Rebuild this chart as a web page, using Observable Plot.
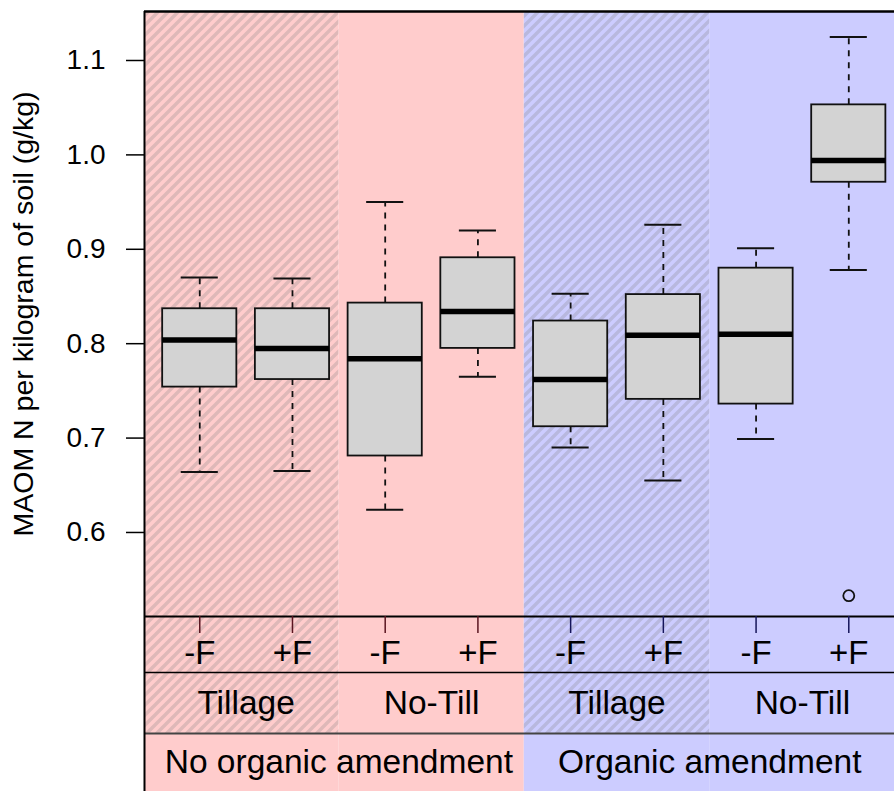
<!DOCTYPE html>
<html>
<head>
<meta charset="utf-8">
<script src="https://cdn.jsdelivr.net/npm/d3@7"></script>
<script src="https://cdn.jsdelivr.net/npm/@observablehq/plot@0.6"></script>
<style>
  html, body { margin: 0; padding: 0; background: white; }
</style>
</head>
<body>
<div id="chart"></div>
<script>
// ---- data ----
const fertilizer = ["-F", "+F", "-F", "+F", "-F", "+F", "-F", "+F"];
const tillage = ["Tillage", "No-Till", "Tillage", "No-Till"];
const amendment = ["No organic amendment", "Organic amendment"];
const whiskerLow = [0.664, 0.665, 0.624, 0.765, 0.690, 0.655, 0.699, 0.878];
const q1 = [0.754, 0.762, 0.681, 0.795, 0.712, 0.741, 0.736, 0.971];
const median = [0.804, 0.795, 0.784, 0.834, 0.762, 0.809, 0.810, 0.994];
const q3 = [0.837, 0.837, 0.843, 0.891, 0.824, 0.852, 0.880, 1.053];
const whiskerHigh = [0.870, 0.869, 0.950, 0.920, 0.853, 0.926, 0.901, 1.125];
const outlierGroup = [7];
const outlierValue = [0.533];
const yTicks = [0.6, 0.7, 0.8, 0.9, 1.0, 1.1];
const yTitle = "MAOM N per kilogram of soil (g/kg)";

// ---- layout (scale units) ----
const xMin = -0.596, xMax = 7.493;
const yMin = 0.3256, yMax = 1.1519;
const rowLine1 = 0.511, rowLine2 = 0.4517, rowLine3 = 0.3871;
const pink = "#FFCCCC", lavender = "#CCCCFF";
const font = "'Liberation Sans', Arial, Helvetica, sans-serif";

const boxes = fertilizer.map((f, i) => ({
  i, f, lo: whiskerLow[i], q1: q1[i], med: median[i], q3: q3[i], hi: whiskerHigh[i],
  amend: i < 4 ? 0 : 1
}));
const regions = tillage.map((t, k) => ({
  k, label: t,
  x1: k === 0 ? xMin : 2 * k - 0.5,
  x2: k === 3 ? xMax : 2 * k + 1.5,
  mid: 2 * k + 0.5,
  fill: k < 2 ? pink : lavender,
  hatched: t === "Tillage"
}));
const amendRegions = amendment.map((a, k) => ({ label: a, x: 4 * k + 1.5 }));
const outliers = outlierGroup.map((g, j) => ({ i: g, v: outlierValue[j] }));

const chart = Plot.plot({
  width: 894,
  height: 791,
  marginLeft: 144,
  marginRight: 0,
  marginTop: 11,
  marginBottom: 0,
  style: { fontFamily: font, background: "white", overflow: "hidden" },
  x: { domain: [xMin, xMax], axis: null },
  y: { domain: [yMin, yMax], axis: null },
  marks: [
    // backgrounds
    Plot.rect(regions, { x1: "x1", x2: "x2", y1: yMin, y2: yMax, fill: "fill" }),
    Plot.rect(regions.filter(d => d.hatched), { x1: "x1", x2: "x2", y1: rowLine3, y2: yMax, fill: "url(#hatch)" }),
    // whiskers
    Plot.ruleX(boxes, { x: "i", y1: "q3", y2: "hi", stroke: "#111", strokeWidth: 1.8, strokeDasharray: "6,6" }),
    Plot.ruleX(boxes, { x: "i", y1: "q1", y2: "lo", stroke: "#111", strokeWidth: 1.8, strokeDasharray: "6,6" }),
    Plot.ruleY(boxes, { y: "hi", x1: d => d.i - 0.2, x2: d => d.i + 0.2, stroke: "#111", strokeWidth: 2 }),
    Plot.ruleY(boxes, { y: "lo", x1: d => d.i - 0.2, x2: d => d.i + 0.2, stroke: "#111", strokeWidth: 2 }),
    // boxes
    Plot.rect(boxes, { x1: d => d.i - 0.4, x2: d => d.i + 0.4, y1: "q1", y2: "q3", fill: "#D3D3D3", stroke: "#111", strokeWidth: 1.8 }),
    Plot.ruleY(boxes, { y: "med", x1: d => d.i - 0.4, x2: d => d.i + 0.4, stroke: "black", strokeWidth: 5.5 }),
    // outliers
    Plot.dot(outliers, { x: "i", y: "v", r: 5.5, stroke: "#111", strokeWidth: 1.8, fill: "none" }),
    // bottom rows
    Plot.ruleY([rowLine1], { stroke: "black", strokeWidth: 2 }),
    Plot.ruleY([rowLine2], { stroke: "black", strokeWidth: 1.5 }),
    Plot.ruleY([rowLine3], { stroke: "#444", strokeWidth: 2 }),
    Plot.ruleX(boxes, { x: "i", y1: rowLine1, y2: 0.493, stroke: d => d.amend === 0 ? "#5a1520" : "#15155a", strokeWidth: 1.5 }),
    Plot.text(boxes, { x: "i", y: 0.4718, text: "f", fontSize: 33, fill: "black", lineAnchor: "middle" }),
    Plot.text(regions, { x: "mid", y: 0.4194, text: "label", fontSize: 33.5, fill: "black", lineAnchor: "middle" }),
    Plot.text(amendRegions, { x: "x", y: 0.3569, text: "label", fontSize: 33.5, fill: "black", lineAnchor: "middle" }),
    // frame
    Plot.ruleX([xMin], { stroke: "black", strokeWidth: 2 }),
    Plot.ruleY([yMax], { stroke: "black", strokeWidth: 2.5 }),
    // y axis
    Plot.axisY({ ticks: yTicks, tickSize: 18, tickPadding: 21, fontSize: 28, tickFormat: d3.format(".1f"), label: null, strokeWidth: 1.5 }),
    Plot.text([yTitle], { x: xMin, y: 0.8315, text: d => d, rotate: -90, dx: -121, fontSize: 28.5, fill: "black", lineAnchor: "middle" })
  ]
});

// hatch pattern
const defs = d3.select(chart).insert("defs", ":first-child");
const pat = defs.append("pattern")
  .attr("id", "hatch")
  .attr("patternUnits", "userSpaceOnUse")
  .attr("width", 10).attr("height", 10);
pat.append("path")
  .attr("d", "M-2.5,2.5 L2.5,-2.5 M0,10 L10,0 M7.5,12.5 L12.5,7.5")
  .attr("stroke", "rgba(125,125,125,0.25)")
  .attr("stroke-width", 3.5)
  .attr("fill", "none");

document.getElementById("chart").appendChild(chart);
</script>
</body>
</html>
